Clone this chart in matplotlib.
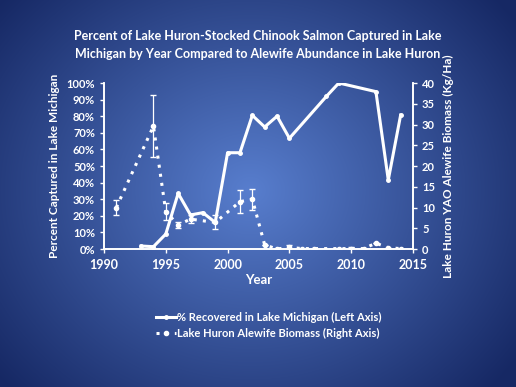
import numpy as np
import matplotlib
matplotlib.use("Agg")
import matplotlib.pyplot as plt
from matplotlib.lines import Line2D

plt.rcParams['font.family'] = ['Lato', 'DejaVu Sans']
plt.rcParams['font.weight'] = 'bold'

# percent recovered in Lake Michigan (left axis)
rec_years = [1993, 1994, 1995, 1996, 1997, 1998, 1999, 2000, 2001, 2002,
             2003, 2004, 2005, 2008, 2009, 2012, 2013, 2014]
rec_pct = [0.018, 0.014, 0.09, 0.335, 0.205, 0.219, 0.16, 0.58, 0.58, 0.805,
           0.735, 0.80, 0.667, 0.92, 1.00, 0.948, 0.416, 0.807]

# alewife biomass in Lake Huron (right axis), kg/ha
ale_years = [1991, 1994, 1995, 1996, 1997, 1999, 2001, 2002, 2003, 2004,
             2005, 2006, 2007, 2009, 2010, 2011, 2012, 2013, 2014]
ale_bio = [10.0, 29.6, 9.0, 5.8, 7.2, 6.4, 11.4, 12.0, 1.0, 0.0,
           0.4, 0.1, 0.1, 0.1, 0.1, 0.1, 1.4, 0.3, 0.1]
ale_err = [1.8, 7.5, 2.0, 0.8, 1.0, 1.7, 2.8, 2.5, 0, 0,
           0.6, 0, 0, 0, 0.4, 0, 0, 0, 0]

W, H = 516, 387
fig = plt.figure(figsize=(W / 100, H / 100), dpi=100)

# radial gradient background
bg = fig.add_axes([0, 0, 1, 1])
yy, xx = np.mgrid[0:H, 0:W]
r = np.sqrt(((xx - 250) / 330.0) ** 2 + ((yy - 190) / 290.0) ** 2)
r = np.clip(r, 0, 1)
c_in = np.array([88, 126, 206]) / 255
c_out = np.array([22, 40, 100]) / 255
img = c_in[None, None, :] * (1 - r[..., None]) + c_out[None, None, :] * r[..., None]
bg.imshow(img, aspect='auto', extent=[0, 1, 0, 1])
bg.axis('off')

ax = fig.add_axes([104 / W, 1 - 249 / H, (413 - 104) / W, (249 - 83) / H])
ax.patch.set_alpha(0)
ax2 = ax.twinx()

white = 'white'
dots = (0, (1, 2))
ax.plot(rec_years, rec_pct, color=white, lw=2.2, marker='o', ms=2.5)
ax2.plot(ale_years, ale_bio, color=white, lw=2.2, ls=dots,
         marker='o', ms=3)
ax2.errorbar(ale_years, ale_bio, yerr=ale_err, fmt='none', ecolor=white,
             elinewidth=0.9, capsize=2)

ax.set_xlim(1990, 2015)
ax.set_ylim(0, 1.0)
ax2.set_ylim(0, 40)
ax.set_xticks([1990, 1995, 2000, 2005, 2010, 2015])
ax.set_yticks(np.arange(0, 1.01, 0.1))
ax.set_yticklabels([f"{int(round(v * 100))}%" for v in np.arange(0, 1.01, 0.1)])
ax2.set_yticks(range(0, 41, 5))

for a in (ax, ax2):
    a.spines['top'].set_visible(False)
    for s in ('left', 'right', 'bottom'):
        a.spines[s].set_color(white)
        a.spines[s].set_linewidth(1.2)
    a.tick_params(colors=white, length=3, width=1, labelsize=8)
ax.tick_params(axis='x', labelsize=9, pad=4)

ax.set_xlabel('Year', color=white, fontsize=9.5, fontweight='bold', labelpad=2)
ax.set_ylabel('Percent Captured in Lake Michigan', color=white, fontsize=8.5,
              fontweight='bold', labelpad=5)
ax2.set_ylabel('Lake Huron YAO Alewife Biomass (Kg/Ha)', color=white,
               fontsize=8.5, fontweight='bold', labelpad=6)

fig.text(0.5, 1 - 36 / H, 'Percent of Lake Huron-Stocked Chinook Salmon Captured in Lake',
         ha='center', va='center', color=white, fontsize=9, fontweight='bold')
fig.text(0.5, 1 - 54 / H, 'Michigan by Year Compared to Alewife Abundance in Lake Huron',
         ha='center', va='center', color=white, fontsize=9, fontweight='bold')

handles = [
    Line2D([], [], color=white, lw=2.2, marker='o', ms=2.5),
    Line2D([], [], color=white, lw=2.2, ls=dots, marker='o', ms=3),
]
labels = ['% Recovered in Lake Michigan (Left Axis)',
          'Lake Huron Alewife Biomass (Right Axis)']
leg = fig.legend(handles, labels, loc='upper left',
                 bbox_to_anchor=(146 / W, 1 - 302 / H), frameon=False,
                 fontsize=8.0, handlelength=1.8, handletextpad=0.1,
                 labelspacing=0.45)
for t in leg.get_texts():
    t.set_color(white)
    t.set_fontweight('bold')

fig.savefig('out.png', dpi=100)
